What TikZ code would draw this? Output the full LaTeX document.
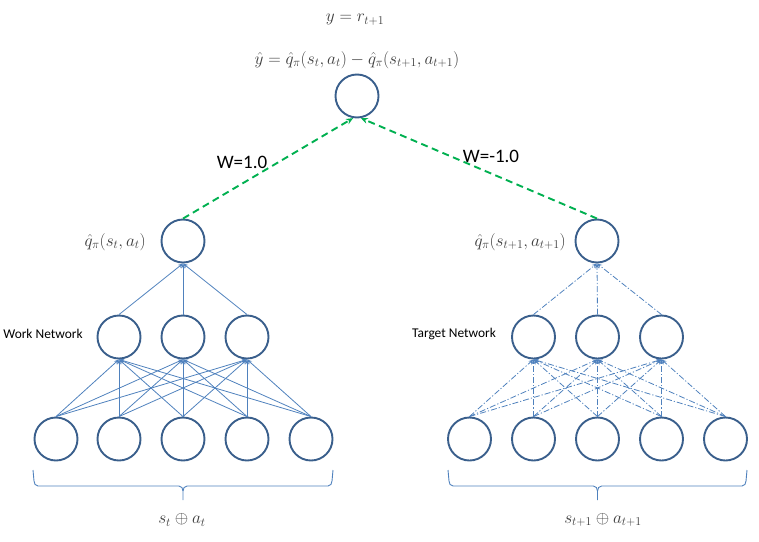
\documentclass[tikz,border=0pt]{standalone}
\usepackage[no-math]{fontspec}
\newfontfamily\labelfont{Carlito}
\usetikzlibrary{arrows.meta}
\definecolor{ringblue}{HTML}{3A5F8C}
\definecolor{linkblue}{HTML}{4F81BD}
\definecolor{weightgreen}{HTML}{00B050}
\definecolor{mathgray}{HTML}{3C3C3C}
\begin{document}
\begin{tikzpicture}[x=1pt,y=-1pt,
  neuron/.style={circle,draw=ringblue,line width=1.9pt,fill=white,minimum size=43pt,inner sep=0pt},
  solidlink/.style={draw=linkblue,line width=0.8pt,-{Stealth[length=5pt,width=4pt]}},
  dashlink/.style={draw=linkblue,line width=0.8pt,dash pattern=on 6pt off 2pt on 1.2pt off 2pt,-{Stealth[length=5pt,width=4pt]}},
  weightlink/.style={draw=weightgreen,line width=1.9pt,dash pattern=on 7pt off 4.5pt,-{Stealth[length=7pt,width=6pt]}},
  mathlabel/.style={text=mathgray,font=\fontsize{16.4}{20}\selectfont,inner sep=0pt},
  netlabel/.style={font=\labelfont\fontsize{13.4}{16}\selectfont,inner sep=0pt},
  weightlabel/.style={font=\labelfont\fontsize{19}{22}\selectfont,inner sep=0pt},
  bracket/.style={draw=linkblue,line width=0.9pt}]
\useasboundingbox (0,0) rectangle (759,541);

% output neuron and the two value neurons
\node[neuron] (top) at (357,96) {};
\node[neuron] (lq) at (183,241) {};
\node[neuron] (rq) at (597,241) {};

% work network
\foreach \i/\x in {1/56,2/119,3/183,4/247,5/311}
  \node[neuron] (lin\i) at (\x,439) {};
\foreach \j/\x in {1/119,2/183,3/247}
  \node[neuron] (lh\j) at (\x,337) {};

% target network
\foreach \i/\x in {1/469.5,2/533.5,3/597.5,4/661.5,5/725.5}
  \node[neuron] (rin\i) at (\x,439) {};
\foreach \j/\x in {1/533.5,2/597.5,3/661.5}
  \node[neuron] (rh\j) at (\x,337) {};

% connections
\foreach \i in {1,...,5}
  \foreach \j in {1,2,3} {
    \draw[solidlink] (lin\i.north) -- (lh\j.south);
    \draw[dashlink] (rin\i.north) -- (rh\j.south);
  }
\foreach \j in {1,2,3} {
  \draw[solidlink] (lh\j.north) -- (lq.south);
  \draw[dashlink] (rh\j.north) -- (rq.south);
}

% weighted links into the output
\draw[weightlink] (lq.north) -- (top.-100);
\draw[weightlink] (rq.north) -- (top.-80);
\node[weightlabel] (wl) at (242,162) {W=1.0};
\node[weightlabel] (wr) at (491,156) {W=-1.0};

% labels
\node[mathlabel] (ylab) at (355,20) {$y = r_{t+1}$};
\node[mathlabel] (yhat) at (357,60) {$\hat{y} = \hat{q}_\pi(s_t,a_t) - \hat{q}_\pi(s_{t+1},a_{t+1})$};
\node[mathlabel,anchor=east] (lqlab) at (146,242) {$\hat{q}_\pi(s_t,a_t)$};
\node[mathlabel,anchor=east] (rqlab) at (566,242) {$\hat{q}_\pi(s_{t+1},a_{t+1})$};
\node[netlabel] (wn) at (43,334) {Work Network};
\node[netlabel] (tn) at (454,334) {Target Network};

% input braces
\draw[bracket] (33,470) -- (34,481) to[out=-90,in=180] (38,486) -- (179,486)
  to[out=0,in=90] (183,491) -- (183,500);
\draw[bracket] (183,491) to[out=90,in=180] (187,486) -- (328,486)
  to[out=0,in=-90] (332,481) -- (333,470);
\draw[bracket] (448,470) -- (449,481) to[out=-90,in=180] (453,486) -- (593.5,486)
  to[out=0,in=90] (597.5,491) -- (597.5,500);
\draw[bracket] (597.5,491) to[out=90,in=180] (601.5,486) -- (742,486)
  to[out=0,in=-90] (746,481) -- (747,470);
\node[mathlabel] (lin) at (182,520) {$s_t \oplus a_t$};
\node[mathlabel] (rin) at (603,520) {$s_{t+1} \oplus a_{t+1}$};
\end{tikzpicture}
\end{document}
